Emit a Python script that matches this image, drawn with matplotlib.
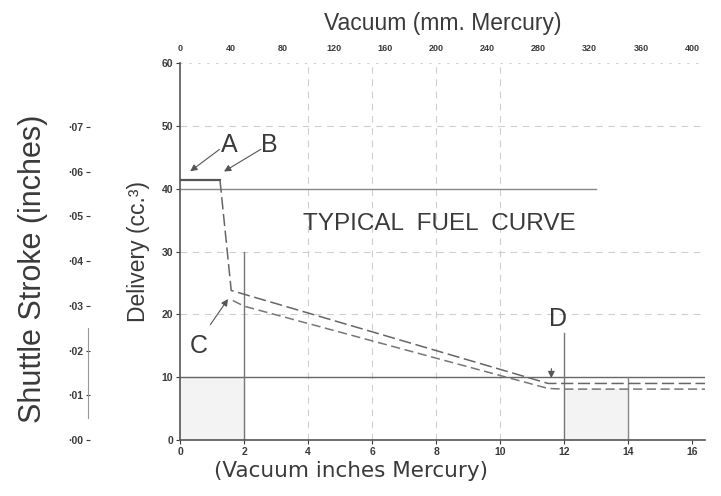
import matplotlib.pyplot as plt
import numpy as np

plt.rcParams['font.family'] = ['Liberation Sans', 'DejaVu Sans']

# fuel curve, inches Hg vs delivery cc
upper_x = [0, 1.25, 1.6, 11.5, 16.5]
upper_y = [41.3, 41.3, 23.8, 9.0, 9.0]
lower_x = [1.65, 2.0, 11.5, 12.0, 16.5]
lower_y = [22.2, 21.3, 8.2, 8.1, 8.1]

x_ticks = [0, 2, 4, 6, 8, 10, 12, 14, 16]
y_ticks = [0, 10, 20, 30, 40, 50, 60]
mm_ticks = [0, 40, 80, 120, 160, 200, 240, 280, 320, 360, 400]
stroke_ticks = [0.00, 0.01, 0.02, 0.03, 0.04, 0.05, 0.06, 0.07]
stroke_labels = ['·00', '·01', '·02', '·03', '·04', '·05', '·06', '·07']

ink = '#3a3a3a'
faint = '#cfcfcf'

fig = plt.figure(figsize=(7.21, 4.96), dpi=100)
ax = fig.add_axes([180/721, 1-440/496, 525/721, 377/496])
ax.set_xlim(0, 16.4)
ax.set_ylim(0, 60)

# light shading like the scan
ax.fill_between([0, 2], 0, 10, color='#f3f3f3', zorder=0)
ax.fill_between([12, 14], 0, 8.1, color='#f3f3f3', zorder=0)

# faint grid
for v in [4, 6, 8, 10]:
    ax.plot([v, v], [0, 60], color=faint, lw=0.8, ls=(0, (6, 5)), zorder=1)
for h in [20, 30, 50]:
    ax.plot([0, 16.4], [h, h], color=faint, lw=0.8, ls=(0, (6, 5)), zorder=1)
ax.plot([0, 16.4], [60, 60], color=faint, lw=0.8, ls=(0, (2, 6)), zorder=1)
# darker guide lines
ax.plot([0, 16.4], [10, 10], color='#666666', lw=1.0, zorder=2)
ax.plot([0, 13], [40, 40], color='#888888', lw=1.0, zorder=2)
ax.plot([2, 2], [0, 30], color='#777777', lw=1.0, zorder=2)
ax.plot([12, 12], [0, 17], color='#777777', lw=1.0, zorder=2)
ax.plot([14, 14], [0, 10], color='#888888', lw=1.0, zorder=2)

# curves
ax.plot(upper_x[:2], upper_y[:2], color='#555555', lw=1.6, zorder=3)
ax.plot(upper_x[1:], upper_y[1:], color='#666666', lw=1.1, ls=(0, (8, 3)), zorder=3)
ax.plot(lower_x, lower_y, color='#777777', lw=1.1, ls=(0, (6, 3)), zorder=3)

# annotations
arr = dict(arrowstyle='-|>', color='#555555', lw=0.8, mutation_scale=10)
ax.annotate('', xy=(0.25, 42.5), xytext=(1.3, 46.5), arrowprops=arr)
ax.annotate('', xy=(1.3, 42.5), xytext=(2.6, 46.5), arrowprops=arr)
ax.annotate('', xy=(1.55, 22.8), xytext=(0.9, 18.0), arrowprops=arr)
ax.annotate('', xy=(11.6, 9.4), xytext=(11.6, 11.8), arrowprops=arr)
ax.text(1.55, 47.0, 'A', fontsize=18, color=ink, ha='center', va='center')
ax.text(2.8, 47.0, 'B', fontsize=18, color=ink, ha='center', va='center')
ax.text(0.6, 15.0, 'C', fontsize=18, color=ink, ha='center', va='center')
ax.text(11.8, 19.2, 'D', fontsize=18, color=ink, ha='center', va='center')
ax.text(8.1, 34.4, 'TYPICAL  FUEL  CURVE', fontsize=17.5, color=ink,
        ha='center', va='center')

for s in ['top', 'right']:
    ax.spines[s].set_visible(False)
for s in ['left', 'bottom']:
    ax.spines[s].set_color('#555555')
    ax.spines[s].set_linewidth(1.2)
ax.set_xticks(x_ticks)
ax.set_yticks(y_ticks)
ax.tick_params(labelsize=7.5, colors=ink, length=3, pad=2)
for t in ax.get_xticklabels() + ax.get_yticklabels():
    t.set_fontweight('bold')
ax.set_ylabel('Delivery (cc.³)', fontsize=16.5, color=ink, labelpad=8)
ax.set_xlabel('(Vacuum inches Mercury)', fontsize=15.5, color=ink, labelpad=3,
              x=0.325, family='DejaVu Sans')

# top axis in mm mercury
top = ax.secondary_xaxis('top', functions=(lambda v: v * 25, lambda v: v / 25))
top.set_xticks(mm_ticks)
top.spines['top'].set_visible(False)
top.tick_params(labelsize=6.5, colors=ink, length=0, pad=7)
for t in top.get_xticklabels():
    t.set_fontweight('bold')
top.set_xlabel('Vacuum (mm. Mercury)', fontsize=16.5, color=ink, labelpad=10)

# outer shuttle stroke scale
ax2 = fig.add_axes([88/721, 1-440/496, 0.001, 377/496])
ax2.set_ylim(0, 0.0843)
ax2.set_xticks([])
for s in ['top', 'right', 'bottom', 'left']:
    ax2.spines[s].set_visible(False)
ax2.plot([0, 0], [0.005, 0.025], color='#999999', lw=0.8, clip_on=False)
ax2.set_yticks(stroke_ticks)
ax2.set_yticklabels(stroke_labels)
ax2.tick_params(axis='y', labelsize=7.5, colors=ink, length=3, pad=2,
                direction='inout')
for t in ax2.get_yticklabels():
    t.set_fontweight('bold')
ax2.set_ylabel('Shuttle Stroke (inches)', fontsize=22, color=ink)
ax2.yaxis.set_label_coords(-55, 0.455, transform=None)

fig.savefig('out.png', dpi=100)
